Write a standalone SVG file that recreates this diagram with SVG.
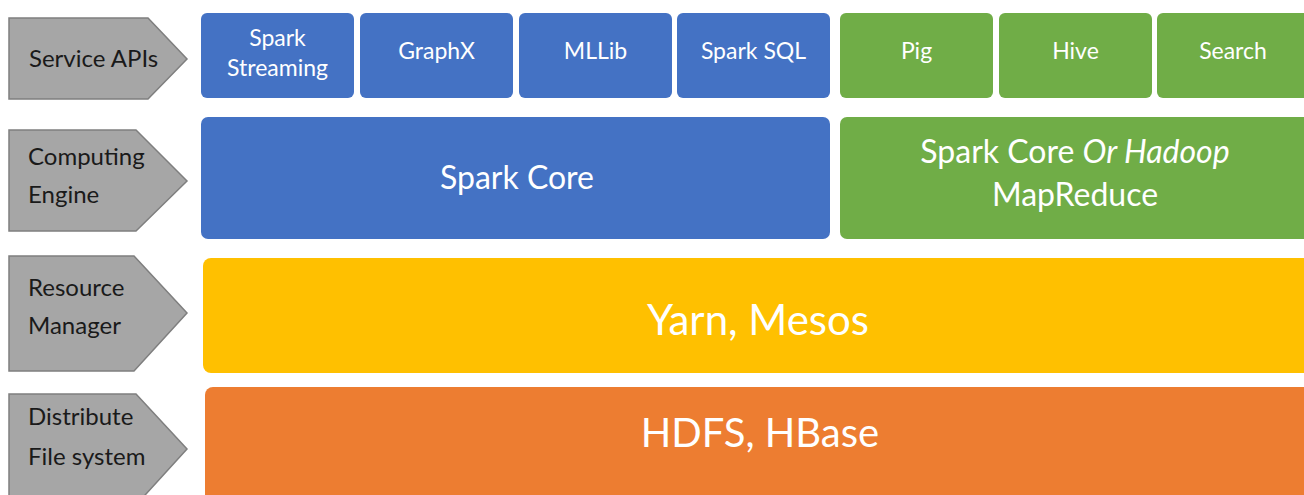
<svg xmlns="http://www.w3.org/2000/svg" width="1304" height="495" viewBox="0 0 1304 495">
  <style>
    .lbl { fill: #A6A6A6; stroke: #7F7F7F; stroke-width: 1.5; }
    .lt { font-family: Lato, "Open Sans", sans-serif; font-size: 24px; fill: #1a1a1a; }
    .blue { fill: #4472C4; }
    .green { fill: #70AD47; }
    .yellow { fill: #FFC000; }
    .orange { fill: #ED7D31; }
    .t { font-family: Lato, "Open Sans", sans-serif; fill: #ffffff; text-anchor: middle; }
    .s { font-size: 23px; }
    .m { font-size: 32px; }
    .l { font-size: 42px; }
    .l2 { font-size: 40px; }
  </style>
  <rect width="1304" height="495" fill="#ffffff"/>

  <!-- layer labels -->
  <g id="label-service-apis">
    <polygon class="lbl" points="9,18 148,18 187,59 148,99 9,99"/>
    <text class="lt" x="29" y="67">Service APIs</text>
  </g>
  <g id="label-computing-engine">
    <polygon class="lbl" points="9,130 136,130 187,181 136,231 9,231"/>
    <text class="lt" x="28" y="165">Computing</text>
    <text class="lt" x="28" y="203">Engine</text>
  </g>
  <g id="label-resource-manager">
    <polygon class="lbl" points="9,256 134,256 187,313 134,371 9,371"/>
    <text class="lt" x="28" y="296">Resource</text>
    <text class="lt" x="28" y="334">Manager</text>
  </g>
  <g id="label-file-system">
    <polygon class="lbl" points="9,394 136,394 187,449 136,505 9,505"/>
    <text class="lt" x="28" y="425">Distribute</text>
    <text class="lt" x="28" y="465">File system</text>
  </g>

  <!-- service APIs -->
  <g id="spark-streaming">
    <rect class="blue" x="201" y="13" width="153" height="85" rx="6"/>
    <text class="t s" x="277.5" y="46">Spark</text>
    <text class="t s" x="277.5" y="76">Streaming</text>
  </g>
  <g id="graphx">
    <rect class="blue" x="360" y="13" width="153" height="85" rx="6"/>
    <text class="t s" x="436.5" y="59">GraphX</text>
  </g>
  <g id="mllib">
    <rect class="blue" x="519" y="13" width="153" height="85" rx="6"/>
    <text class="t s" x="595.5" y="59">MLLib</text>
  </g>
  <g id="spark-sql">
    <rect class="blue" x="677" y="13" width="153" height="85" rx="6"/>
    <text class="t s" x="753.5" y="59">Spark SQL</text>
  </g>
  <g id="pig">
    <rect class="green" x="840" y="13" width="153" height="85" rx="6"/>
    <text class="t s" x="916.5" y="59">Pig</text>
  </g>
  <g id="hive">
    <rect class="green" x="999" y="13" width="153" height="85" rx="6"/>
    <text class="t s" x="1075.5" y="59">Hive</text>
  </g>
  <g id="search">
    <rect class="green" x="1157" y="13" width="160" height="85" rx="6"/>
    <text class="t s" x="1233" y="59">Search</text>
  </g>

  <!-- computing engines -->
  <g id="spark-core">
    <rect class="blue" x="201" y="117" width="629" height="122" rx="7"/>
    <text class="t m" x="517" y="189">Spark Core</text>
  </g>
  <g id="spark-core-or-mapreduce">
    <rect class="green" x="840" y="117" width="480" height="122" rx="7"/>
    <text class="t m" x="1075" y="163">Spark Core <tspan font-style="italic">Or Hadoop</tspan></text>
    <text class="t m" x="1075" y="206">MapReduce</text>
  </g>

  <!-- resource manager -->
  <g id="yarn-mesos">
    <rect class="yellow" x="203" y="258" width="1120" height="115" rx="8"/>
    <text class="t l" x="758" y="335">Yarn, Mesos</text>
  </g>

  <!-- distributed file system -->
  <g id="hdfs-hbase">
    <rect class="orange" x="205" y="387" width="1120" height="130" rx="8"/>
    <text class="t l2" x="760" y="447">HDFS, HBase</text>
  </g>

  <g id="connectors"/>
</svg>
